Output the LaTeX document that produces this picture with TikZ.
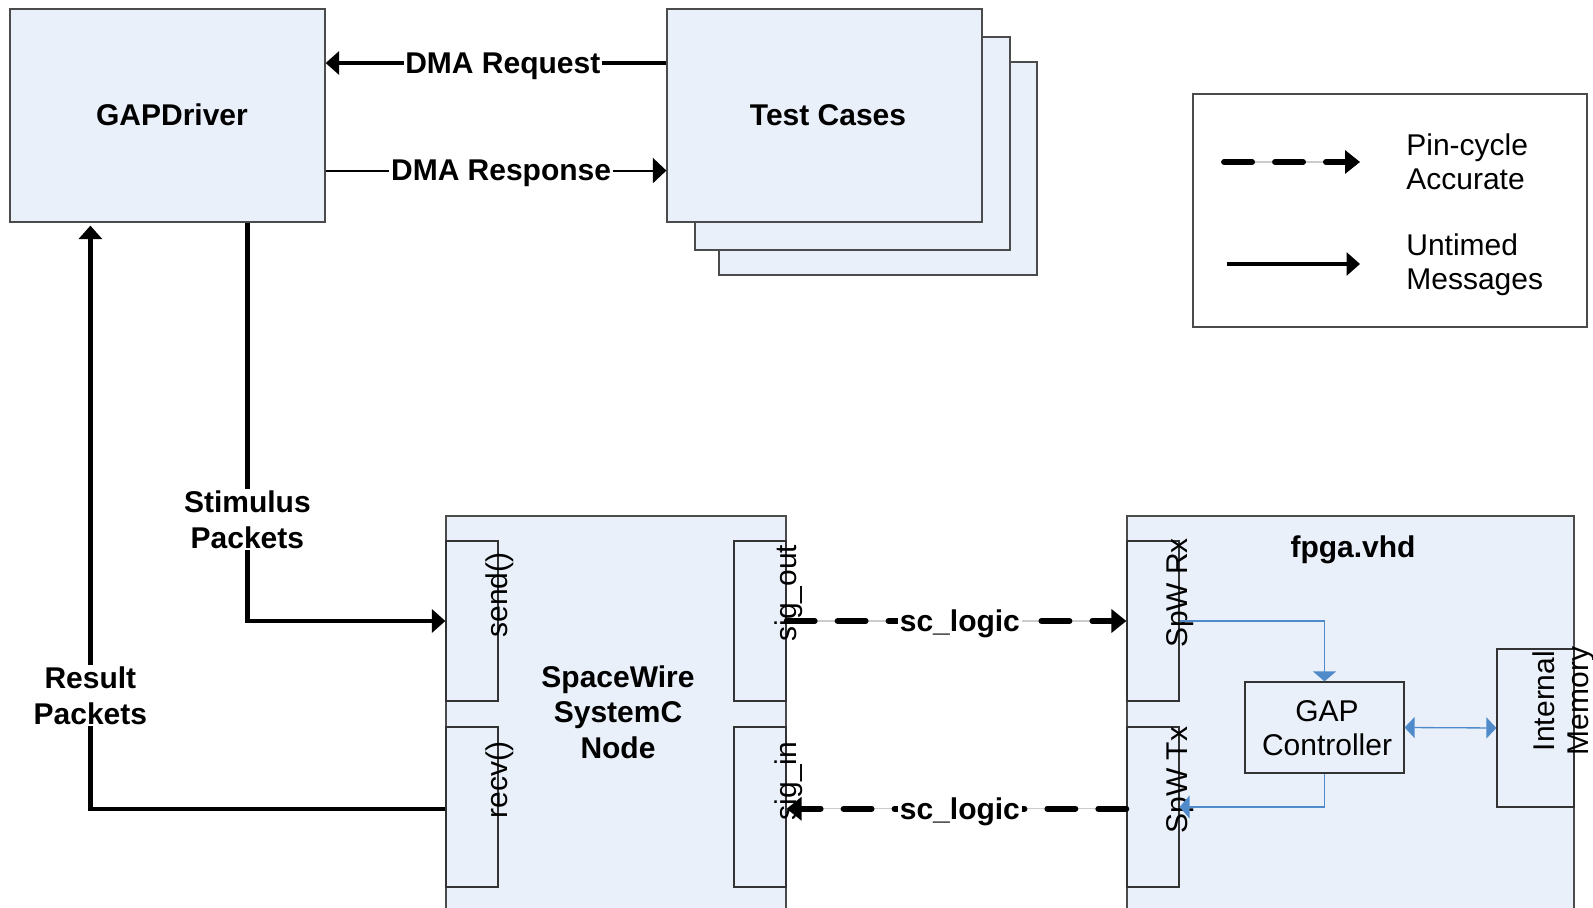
\documentclass[tikz,border=0pt]{standalone}
\usepackage{fontspec}
\setmainfont{Liberation Sans}
\usetikzlibrary{arrows.meta,fit,calc}

\definecolor{boxfill}{RGB}{233,240,249}
\definecolor{boxline}{RGB}{75,75,75}
\definecolor{linkblue}{RGB}{79,138,203}

\begin{document}
\begin{tikzpicture}[x=0.02cm,y=-0.02cm,
  txt/.style={font=\fontsize{17.07}{19.1}\selectfont, inner sep=0pt, align=center},
  boldtxt/.style={font=\fontsize{17.07}{20.2}\selectfont\bfseries, inner sep=0pt, align=center},
  box/.style={draw=boxline, fill=boxfill, line width=0.7pt, inner sep=0pt},
  port/.style={draw=black!80, fill=boxfill, line width=0.7pt, inner sep=0pt},
  untimed/.style={line width=2.45pt, -{Triangle[length=0.27cm,width=0.46cm]}},
  response/.style={line width=1.15pt, -{Triangle[length=0.27cm,width=0.5cm]}},
  pincycle/.style={line width=3.3pt, line cap=round, dash pattern=on 16pt off 13pt,
    -{Triangle[length=0.3cm,width=0.46cm]},
    preaction={draw=gray!40, line width=0.6pt, solid, -}},
  ctrl/.style={draw=linkblue, line width=0.75pt, -{Triangle[length=0.2cm,width=0.46cm]}},
  ctrlboth/.style={draw=linkblue, line width=0.75pt,
    {Triangle[length=0.2cm,width=0.42cm]}-{Triangle[length=0.2cm,width=0.42cm]}},
  onwire/.style={fill=white, inner sep=1pt},
  lower/.style={yshift=-1.7pt}
]
\useasboundingbox (0,0) rectangle (1593,908);
\clip (0,0) rectangle (1593,908);

% --- driver and the stack of test cases
\node[box, fit={(10,9) (325,222)}] (gd) {};
\node[box, fit={(719,62) (1037,275)}] (tc3) {};
\node[box, fit={(695,37) (1010,250)}] (tc2) {};
\node[box, fit={(667,9) (982,222)}] (tc1) {};
\node[boldtxt] (gdl) at (172,115) {GAPDriver};
\node[boldtxt] (tcl) at (828,115) {Test Cases};

\coordinate (reqR) at ($(tc1.north west)!0.255!(tc1.south west)$);
\coordinate (resL) at ($(gd.north east)!0.757!(gd.south east)$);
\draw[untimed] (reqR) -- (reqR -| gd.east)
  node[boldtxt, onwire, lower, pos=0.48] (req) {DMA Request};
\draw[response] (resL) -- (resL -| tc1.west)
  node[boldtxt, onwire, lower, pos=0.515] (resp) {DMA Response};

% --- legend
\node[draw=boxline, fill=white, line width=0.7pt, inner sep=0pt,
  fit={(1193,94) (1587,327)}] (legend) {};
\node[txt, align=left, anchor=west] (lpin) at (1406,162) {Pin-cycle\\Accurate};
\node[txt, align=left, anchor=west] (lunt) at (1406,265) {Untimed\\Messages};
\coordinate (lpinA) at (1224,162);
\coordinate (luntA) at (1227,264);
\draw[pincycle] (lpinA) -- (lpinA -| 1360,0);
\draw[untimed] (luntA) -- (luntA -| 1360,0);

% --- SpaceWire SystemC node and its ports
\node[box, fit={(446,516) (786,930)}] (sw) {};
\node[boldtxt] (swlabel) at (618,712) {SpaceWire\\SystemC\\Node};
\node[port, fit={(446,541) (498,701)}] (send) {};
\node[port, fit={(446,727) (498,887)}] (recv) {};
\node[port, fit={(734,541) (786,701)}] (sigout) {};
\node[port, fit={(734,727) (786,887)}] (sigin) {};
\node[txt, rotate=90] (sendl) at (500,595) {send()};
\node[txt, rotate=90] (recvl) at (500,780) {recv()};
\node[txt, rotate=90] (sigoutl) at (789,593) {sig\_out};
\node[txt, rotate=90] (siginl) at (789,781) {sig\_in};

% --- FPGA top level
\node[box, fit={(1127,516) (1574,930)}] (fpga) {};
\node[boldtxt, lower] (fpgal) at (1353,547) {fpga.vhd};
\node[port, fit={(1127,541) (1179,701)}] (rx) {};
\node[port, fit={(1127,727) (1179,887)}] (tx) {};
\node[port, fit={(1245,682) (1404,773)}] (gapc) {};
\node[txt] (gapcl) at (1327,728) {GAP\\Controller};
\node[port, fit={(1497,649) (1574,807)}] (mem) {};
\node[txt, rotate=90] (rxl) at (1180,593) {SpW Rx};
\node[txt, rotate=90] (txl) at (1180,780) {SpW Tx};
\node[txt, rotate=90] (meml) at (1564,701) {Internal\\Memory};

\draw[ctrl] (rx.east) -| (gapc.north);
\draw[ctrl] (gapc.south) |- (tx.east);
\draw[ctrlboth] (gapc.east) -- (mem.west);

% --- pin-cycle accurate signal links
\draw[pincycle] (sigout.east) -- (rx.west)
  node[boldtxt, onwire, lower, pos=0.51] (lgo) {sc\_logic};
\draw[pincycle] ([yshift=-1pt]tx.west) -- ([yshift=-1pt]sigin.east)
  node[boldtxt, onwire, lower, pos=0.49] (lgi) {sc\_logic};

% --- packet flow between driver and node
\coordinate (stimtop) at ($(gd.south west)+(238,0)$);
\coordinate (restop) at ($(gd.south west)+(81,3)$);
\draw[untimed] (stimtop) |- (send.west)
  node[boldtxt, onwire, pos=0.373] (stim) {Stimulus\\Packets};
\draw[untimed] ([yshift=-1.2pt]recv.west) -| (restop)
  node[boldtxt, onwire, pos=0.597] (res) {Result\\Packets};
\end{tikzpicture}
\end{document}
